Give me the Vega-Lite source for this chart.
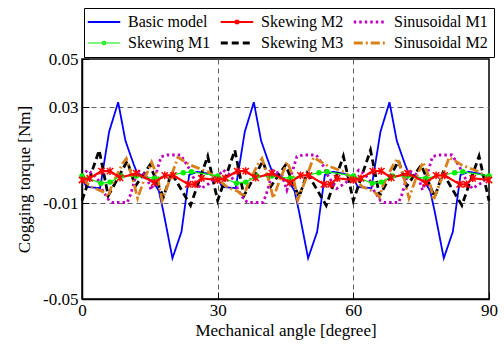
{
  "$schema": "https://vega.github.io/schema/vega-lite/v6.json",
  "width": 407,
  "height": 240,
  "autosize": "none",
  "padding": {"left": 82, "top": 59, "right": 15, "bottom": 45},
  "background": "white",
  "config": {
    "view": {"stroke": "black", "strokeWidth": 1.5},
    "font": "Liberation Serif",
    "axis": {
      "labelFont": "Liberation Serif",
      "titleFont": "Liberation Serif",
      "labelFontSize": 17,
      "titleFontSize": 17,
      "titleFontWeight": "normal",
      "labelColor": "black",
      "titleColor": "black",
      "domainColor": "black",
      "domainWidth": 1.5,
      "tickColor": "black",
      "tickWidth": 1,
      "tickSize": -7,
      "gridColor": "#606060",
      "gridDash": [5, 4],
      "gridWidth": 1,
      "labelFlush": false,
      "labelOverlap": false
    }
  },
  "data": {
    "values": [
      {"series": "Basic model", "angle": 0, "torque": 0.0003},
      {"series": "Basic model", "angle": 1, "torque": -0.0033},
      {"series": "Basic model", "angle": 4, "torque": -0.0038},
      {"series": "Basic model", "angle": 6, "torque": 0.0197},
      {"series": "Basic model", "angle": 8, "torque": 0.032},
      {"series": "Basic model", "angle": 9.6, "torque": 0.016},
      {"series": "Basic model", "angle": 10.7, "torque": 0.010},
      {"series": "Basic model", "angle": 11.5, "torque": 0.0058},
      {"series": "Basic model", "angle": 12.2, "torque": 0.0024},
      {"series": "Basic model", "angle": 14, "torque": 0.001},
      {"series": "Basic model", "angle": 16, "torque": -0.0018},
      {"series": "Basic model", "angle": 17, "torque": -0.005},
      {"series": "Basic model", "angle": 18, "torque": -0.0136},
      {"series": "Basic model", "angle": 20, "torque": -0.033},
      {"series": "Basic model", "angle": 22, "torque": -0.022},
      {"series": "Basic model", "angle": 23.7, "torque": 0.0017},
      {"series": "Basic model", "angle": 25.5, "torque": 0.003},
      {"series": "Basic model", "angle": 28, "torque": 0.0022},
      {"series": "Basic model", "angle": 30, "torque": 0.0003},
      {"series": "Basic model", "angle": 31, "torque": -0.0033},
      {"series": "Basic model", "angle": 34, "torque": -0.0038},
      {"series": "Basic model", "angle": 36, "torque": 0.0197},
      {"series": "Basic model", "angle": 38, "torque": 0.032},
      {"series": "Basic model", "angle": 39.6, "torque": 0.016},
      {"series": "Basic model", "angle": 40.7, "torque": 0.010},
      {"series": "Basic model", "angle": 41.5, "torque": 0.0058},
      {"series": "Basic model", "angle": 42.2, "torque": 0.0024},
      {"series": "Basic model", "angle": 44, "torque": 0.001},
      {"series": "Basic model", "angle": 46, "torque": -0.0018},
      {"series": "Basic model", "angle": 47, "torque": -0.005},
      {"series": "Basic model", "angle": 48, "torque": -0.0136},
      {"series": "Basic model", "angle": 50, "torque": -0.033},
      {"series": "Basic model", "angle": 52, "torque": -0.022},
      {"series": "Basic model", "angle": 53.7, "torque": 0.0017},
      {"series": "Basic model", "angle": 55.5, "torque": 0.003},
      {"series": "Basic model", "angle": 58, "torque": 0.0022},
      {"series": "Basic model", "angle": 60, "torque": 0.0003},
      {"series": "Basic model", "angle": 61, "torque": -0.0033},
      {"series": "Basic model", "angle": 64, "torque": -0.0038},
      {"series": "Basic model", "angle": 66, "torque": 0.0197},
      {"series": "Basic model", "angle": 68, "torque": 0.032},
      {"series": "Basic model", "angle": 69.6, "torque": 0.016},
      {"series": "Basic model", "angle": 70.7, "torque": 0.010},
      {"series": "Basic model", "angle": 71.5, "torque": 0.0058},
      {"series": "Basic model", "angle": 72.2, "torque": 0.0024},
      {"series": "Basic model", "angle": 74, "torque": 0.001},
      {"series": "Basic model", "angle": 76, "torque": -0.0018},
      {"series": "Basic model", "angle": 77, "torque": -0.005},
      {"series": "Basic model", "angle": 78, "torque": -0.0136},
      {"series": "Basic model", "angle": 80, "torque": -0.033},
      {"series": "Basic model", "angle": 82, "torque": -0.022},
      {"series": "Basic model", "angle": 83.7, "torque": 0.0017},
      {"series": "Basic model", "angle": 85.5, "torque": 0.003},
      {"series": "Basic model", "angle": 88, "torque": 0.0022},
      {"series": "Basic model", "angle": 90, "torque": 0.0003},

      {"series": "Skewing M3", "angle": 0, "torque": -0.009},
      {"series": "Skewing M3", "angle": 3.8, "torque": 0.012},
      {"series": "Skewing M3", "angle": 5.8, "torque": -0.007},
      {"series": "Skewing M3", "angle": 10, "torque": 0.0075},
      {"series": "Skewing M3", "angle": 11.8, "torque": -0.003},
      {"series": "Skewing M3", "angle": 15, "torque": 0.0058},
      {"series": "Skewing M3", "angle": 18, "torque": -0.0075},
      {"series": "Skewing M3", "angle": 19.8, "torque": 0.0025},
      {"series": "Skewing M3", "angle": 24, "torque": -0.011},
      {"series": "Skewing M3", "angle": 27.8, "torque": 0.0095},
      {"series": "Skewing M3", "angle": 30, "torque": -0.009},
      {"series": "Skewing M3", "angle": 33.8, "torque": 0.012},
      {"series": "Skewing M3", "angle": 35.8, "torque": -0.007},
      {"series": "Skewing M3", "angle": 40, "torque": 0.0075},
      {"series": "Skewing M3", "angle": 41.8, "torque": -0.003},
      {"series": "Skewing M3", "angle": 45, "torque": 0.0058},
      {"series": "Skewing M3", "angle": 48, "torque": -0.0075},
      {"series": "Skewing M3", "angle": 49.8, "torque": 0.0025},
      {"series": "Skewing M3", "angle": 54, "torque": -0.011},
      {"series": "Skewing M3", "angle": 57.8, "torque": 0.0095},
      {"series": "Skewing M3", "angle": 60, "torque": -0.009},
      {"series": "Skewing M3", "angle": 63.8, "torque": 0.012},
      {"series": "Skewing M3", "angle": 65.8, "torque": -0.007},
      {"series": "Skewing M3", "angle": 70, "torque": 0.0075},
      {"series": "Skewing M3", "angle": 71.8, "torque": -0.003},
      {"series": "Skewing M3", "angle": 75, "torque": 0.0058},
      {"series": "Skewing M3", "angle": 78, "torque": -0.0075},
      {"series": "Skewing M3", "angle": 79.8, "torque": 0.0025},
      {"series": "Skewing M3", "angle": 84, "torque": -0.011},
      {"series": "Skewing M3", "angle": 87.8, "torque": 0.0095},
      {"series": "Skewing M3", "angle": 90, "torque": -0.009},

      {"series": "Sinusoidal M1", "angle": 0, "torque": 0.001},
      {"series": "Sinusoidal M1", "angle": 1.2, "torque": 0.0037},
      {"series": "Sinusoidal M1", "angle": 2.5, "torque": 0.002},
      {"series": "Sinusoidal M1", "angle": 3.8, "torque": -0.001},
      {"series": "Sinusoidal M1", "angle": 4.5, "torque": -0.0046},
      {"series": "Sinusoidal M1", "angle": 6, "torque": -0.009},
      {"series": "Sinusoidal M1", "angle": 6.8, "torque": -0.0098},
      {"series": "Sinusoidal M1", "angle": 10, "torque": -0.0098},
      {"series": "Sinusoidal M1", "angle": 10.7, "torque": -0.0067},
      {"series": "Sinusoidal M1", "angle": 11.5, "torque": -0.0015},
      {"series": "Sinusoidal M1", "angle": 12.3, "torque": 0.0035},
      {"series": "Sinusoidal M1", "angle": 14.2, "torque": 0.0017},
      {"series": "Sinusoidal M1", "angle": 15.3, "torque": -0.0046},
      {"series": "Sinusoidal M1", "angle": 17.5, "torque": 0.0093},
      {"series": "Sinusoidal M1", "angle": 18.8, "torque": 0.01},
      {"series": "Sinusoidal M1", "angle": 21.8, "torque": 0.01},
      {"series": "Sinusoidal M1", "angle": 22.5, "torque": 0.008},
      {"series": "Sinusoidal M1", "angle": 23.5, "torque": 0.005},
      {"series": "Sinusoidal M1", "angle": 24.5, "torque": 0.001},
      {"series": "Sinusoidal M1", "angle": 26.3, "torque": -0.004},
      {"series": "Sinusoidal M1", "angle": 28, "torque": -0.002},
      {"series": "Sinusoidal M1", "angle": 30, "torque": 0.001},
      {"series": "Sinusoidal M1", "angle": 31.2, "torque": 0.0037},
      {"series": "Sinusoidal M1", "angle": 32.5, "torque": 0.002},
      {"series": "Sinusoidal M1", "angle": 33.8, "torque": -0.001},
      {"series": "Sinusoidal M1", "angle": 34.5, "torque": -0.0046},
      {"series": "Sinusoidal M1", "angle": 36, "torque": -0.009},
      {"series": "Sinusoidal M1", "angle": 36.8, "torque": -0.0098},
      {"series": "Sinusoidal M1", "angle": 40, "torque": -0.0098},
      {"series": "Sinusoidal M1", "angle": 40.7, "torque": -0.0067},
      {"series": "Sinusoidal M1", "angle": 41.5, "torque": -0.0015},
      {"series": "Sinusoidal M1", "angle": 42.3, "torque": 0.0035},
      {"series": "Sinusoidal M1", "angle": 44.2, "torque": 0.0017},
      {"series": "Sinusoidal M1", "angle": 45.3, "torque": -0.0046},
      {"series": "Sinusoidal M1", "angle": 47.5, "torque": 0.0093},
      {"series": "Sinusoidal M1", "angle": 48.8, "torque": 0.01},
      {"series": "Sinusoidal M1", "angle": 51.8, "torque": 0.01},
      {"series": "Sinusoidal M1", "angle": 52.5, "torque": 0.008},
      {"series": "Sinusoidal M1", "angle": 53.5, "torque": 0.005},
      {"series": "Sinusoidal M1", "angle": 54.5, "torque": 0.001},
      {"series": "Sinusoidal M1", "angle": 56.3, "torque": -0.004},
      {"series": "Sinusoidal M1", "angle": 58, "torque": -0.002},
      {"series": "Sinusoidal M1", "angle": 60, "torque": 0.001},
      {"series": "Sinusoidal M1", "angle": 61.2, "torque": 0.0037},
      {"series": "Sinusoidal M1", "angle": 62.5, "torque": 0.002},
      {"series": "Sinusoidal M1", "angle": 63.8, "torque": -0.001},
      {"series": "Sinusoidal M1", "angle": 64.5, "torque": -0.0046},
      {"series": "Sinusoidal M1", "angle": 66, "torque": -0.009},
      {"series": "Sinusoidal M1", "angle": 66.8, "torque": -0.0098},
      {"series": "Sinusoidal M1", "angle": 70, "torque": -0.0098},
      {"series": "Sinusoidal M1", "angle": 70.7, "torque": -0.0067},
      {"series": "Sinusoidal M1", "angle": 71.5, "torque": -0.0015},
      {"series": "Sinusoidal M1", "angle": 72.3, "torque": 0.0035},
      {"series": "Sinusoidal M1", "angle": 74.2, "torque": 0.0017},
      {"series": "Sinusoidal M1", "angle": 75.3, "torque": -0.0046},
      {"series": "Sinusoidal M1", "angle": 77.5, "torque": 0.0093},
      {"series": "Sinusoidal M1", "angle": 78.8, "torque": 0.01},
      {"series": "Sinusoidal M1", "angle": 81.8, "torque": 0.01},
      {"series": "Sinusoidal M1", "angle": 82.5, "torque": 0.008},
      {"series": "Sinusoidal M1", "angle": 83.5, "torque": 0.005},
      {"series": "Sinusoidal M1", "angle": 84.5, "torque": 0.001},
      {"series": "Sinusoidal M1", "angle": 86.3, "torque": -0.004},
      {"series": "Sinusoidal M1", "angle": 88, "torque": -0.002},
      {"series": "Sinusoidal M1", "angle": 90, "torque": 0.001},

      {"series": "Sinusoidal M2", "angle": 0, "torque": 0.0},
      {"series": "Sinusoidal M2", "angle": 2, "torque": -0.0032},
      {"series": "Sinusoidal M2", "angle": 4.6, "torque": -0.0053},
      {"series": "Sinusoidal M2", "angle": 5.8, "torque": -0.0074},
      {"series": "Sinusoidal M2", "angle": 6.6, "torque": -0.0025},
      {"series": "Sinusoidal M2", "angle": 9, "torque": 0.0065},
      {"series": "Sinusoidal M2", "angle": 9.8, "torque": 0.0085},
      {"series": "Sinusoidal M2", "angle": 11.2, "torque": 0.0003},
      {"series": "Sinusoidal M2", "angle": 12.3, "torque": -0.008},
      {"series": "Sinusoidal M2", "angle": 13.8, "torque": 0.0},
      {"series": "Sinusoidal M2", "angle": 15.4, "torque": 0.007},
      {"series": "Sinusoidal M2", "angle": 16.7, "torque": 0.001},
      {"series": "Sinusoidal M2", "angle": 17.7, "torque": -0.0088},
      {"series": "Sinusoidal M2", "angle": 19.5, "torque": 0.0},
      {"series": "Sinusoidal M2", "angle": 21.2, "torque": 0.009},
      {"series": "Sinusoidal M2", "angle": 24, "torque": 0.0058},
      {"series": "Sinusoidal M2", "angle": 27.8, "torque": 0.003},
      {"series": "Sinusoidal M2", "angle": 30, "torque": 0.0},
      {"series": "Sinusoidal M2", "angle": 32, "torque": -0.0032},
      {"series": "Sinusoidal M2", "angle": 34.6, "torque": -0.0053},
      {"series": "Sinusoidal M2", "angle": 35.8, "torque": -0.0074},
      {"series": "Sinusoidal M2", "angle": 36.6, "torque": -0.0025},
      {"series": "Sinusoidal M2", "angle": 39, "torque": 0.0065},
      {"series": "Sinusoidal M2", "angle": 39.8, "torque": 0.0085},
      {"series": "Sinusoidal M2", "angle": 41.2, "torque": 0.0003},
      {"series": "Sinusoidal M2", "angle": 42.3, "torque": -0.008},
      {"series": "Sinusoidal M2", "angle": 43.8, "torque": 0.0},
      {"series": "Sinusoidal M2", "angle": 45.4, "torque": 0.007},
      {"series": "Sinusoidal M2", "angle": 46.7, "torque": 0.001},
      {"series": "Sinusoidal M2", "angle": 47.7, "torque": -0.0088},
      {"series": "Sinusoidal M2", "angle": 49.5, "torque": 0.0},
      {"series": "Sinusoidal M2", "angle": 51.2, "torque": 0.009},
      {"series": "Sinusoidal M2", "angle": 54, "torque": 0.0058},
      {"series": "Sinusoidal M2", "angle": 57.8, "torque": 0.003},
      {"series": "Sinusoidal M2", "angle": 60, "torque": 0.0},
      {"series": "Sinusoidal M2", "angle": 62, "torque": -0.0032},
      {"series": "Sinusoidal M2", "angle": 64.6, "torque": -0.0053},
      {"series": "Sinusoidal M2", "angle": 65.8, "torque": -0.0074},
      {"series": "Sinusoidal M2", "angle": 66.6, "torque": -0.0025},
      {"series": "Sinusoidal M2", "angle": 69, "torque": 0.0065},
      {"series": "Sinusoidal M2", "angle": 69.8, "torque": 0.0085},
      {"series": "Sinusoidal M2", "angle": 71.2, "torque": 0.0003},
      {"series": "Sinusoidal M2", "angle": 72.3, "torque": -0.008},
      {"series": "Sinusoidal M2", "angle": 73.8, "torque": 0.0},
      {"series": "Sinusoidal M2", "angle": 75.4, "torque": 0.007},
      {"series": "Sinusoidal M2", "angle": 76.7, "torque": 0.001},
      {"series": "Sinusoidal M2", "angle": 77.7, "torque": -0.0088},
      {"series": "Sinusoidal M2", "angle": 79.5, "torque": 0.0},
      {"series": "Sinusoidal M2", "angle": 81.2, "torque": 0.009},
      {"series": "Sinusoidal M2", "angle": 84, "torque": 0.0058},
      {"series": "Sinusoidal M2", "angle": 87.8, "torque": 0.003},
      {"series": "Sinusoidal M2", "angle": 90, "torque": 0.0},

      {"series": "Skewing M1", "angle": 0, "torque": 0.0013},
      {"series": "Skewing M1", "angle": 4.2, "torque": -0.0018},
      {"series": "Skewing M1", "angle": 6.2, "torque": -0.0013},
      {"series": "Skewing M1", "angle": 8.7, "torque": 0.0013},
      {"series": "Skewing M1", "angle": 12, "torque": 0.0012},
      {"series": "Skewing M1", "angle": 16, "torque": 0.0003},
      {"series": "Skewing M1", "angle": 22.4, "torque": 0.0026},
      {"series": "Skewing M1", "angle": 24.2, "torque": 0.003},
      {"series": "Skewing M1", "angle": 30, "torque": 0.0013},
      {"series": "Skewing M1", "angle": 34.2, "torque": -0.0018},
      {"series": "Skewing M1", "angle": 36.2, "torque": -0.0013},
      {"series": "Skewing M1", "angle": 38.7, "torque": 0.0013},
      {"series": "Skewing M1", "angle": 42, "torque": 0.0012},
      {"series": "Skewing M1", "angle": 46, "torque": 0.0003},
      {"series": "Skewing M1", "angle": 52.4, "torque": 0.0026},
      {"series": "Skewing M1", "angle": 54.2, "torque": 0.003},
      {"series": "Skewing M1", "angle": 60, "torque": 0.0013},
      {"series": "Skewing M1", "angle": 64.2, "torque": -0.0018},
      {"series": "Skewing M1", "angle": 66.2, "torque": -0.0013},
      {"series": "Skewing M1", "angle": 68.7, "torque": 0.0013},
      {"series": "Skewing M1", "angle": 72, "torque": 0.0012},
      {"series": "Skewing M1", "angle": 76, "torque": 0.0003},
      {"series": "Skewing M1", "angle": 82.4, "torque": 0.0026},
      {"series": "Skewing M1", "angle": 84.2, "torque": 0.003},
      {"series": "Skewing M1", "angle": 90, "torque": 0.0013},

      {"series": "Skewing M2", "angle": 0, "torque": -0.0004},
      {"series": "Skewing M2", "angle": 1.7, "torque": 0.0003},
      {"series": "Skewing M2", "angle": 4.3, "torque": 0.0033},
      {"series": "Skewing M2", "angle": 6.2, "torque": 0.0033},
      {"series": "Skewing M2", "angle": 8.4, "torque": 0.0005},
      {"series": "Skewing M2", "angle": 12, "torque": 0.0024},
      {"series": "Skewing M2", "angle": 16, "torque": -0.0015},
      {"series": "Skewing M2", "angle": 18.3, "torque": 0.0015},
      {"series": "Skewing M2", "angle": 20.2, "torque": 0.0015},
      {"series": "Skewing M2", "angle": 23.5, "torque": -0.0022},
      {"series": "Skewing M2", "angle": 25, "torque": -0.0022},
      {"series": "Skewing M2", "angle": 26.4, "torque": 0.0003},
      {"series": "Skewing M2", "angle": 30, "torque": -0.0004},
      {"series": "Skewing M2", "angle": 31.7, "torque": 0.0003},
      {"series": "Skewing M2", "angle": 34.3, "torque": 0.0033},
      {"series": "Skewing M2", "angle": 36.2, "torque": 0.0033},
      {"series": "Skewing M2", "angle": 38.4, "torque": 0.0005},
      {"series": "Skewing M2", "angle": 42, "torque": 0.0024},
      {"series": "Skewing M2", "angle": 46, "torque": -0.0015},
      {"series": "Skewing M2", "angle": 48.3, "torque": 0.0015},
      {"series": "Skewing M2", "angle": 50.2, "torque": 0.0015},
      {"series": "Skewing M2", "angle": 53.5, "torque": -0.0022},
      {"series": "Skewing M2", "angle": 55, "torque": -0.0022},
      {"series": "Skewing M2", "angle": 56.4, "torque": 0.0003},
      {"series": "Skewing M2", "angle": 60, "torque": -0.0004},
      {"series": "Skewing M2", "angle": 61.7, "torque": 0.0003},
      {"series": "Skewing M2", "angle": 64.3, "torque": 0.0033},
      {"series": "Skewing M2", "angle": 66.2, "torque": 0.0033},
      {"series": "Skewing M2", "angle": 68.4, "torque": 0.0005},
      {"series": "Skewing M2", "angle": 72, "torque": 0.0024},
      {"series": "Skewing M2", "angle": 76, "torque": -0.0015},
      {"series": "Skewing M2", "angle": 78.3, "torque": 0.0015},
      {"series": "Skewing M2", "angle": 80.2, "torque": 0.0015},
      {"series": "Skewing M2", "angle": 83.5, "torque": -0.0022},
      {"series": "Skewing M2", "angle": 85, "torque": -0.0022},
      {"series": "Skewing M2", "angle": 86.4, "torque": 0.0003},
      {"series": "Skewing M2", "angle": 90, "torque": -0.0004}
    ]
  },
  "encoding": {
    "x": {
      "field": "angle",
      "type": "quantitative",
      "scale": {"domain": [0, 90], "nice": false, "zero": false},
      "axis": {
        "values": [0, 30, 60, 90],
        "title": "Mechanical angle [degree]",
        "labelPadding": 10,
        "titlePadding": 4,
        "gridOpacity": {"condition": {"test": "datum.value == 0 || datum.value == 90", "value": 0}, "value": 1}
      }
    },
    "y": {
      "field": "torque",
      "type": "quantitative",
      "scale": {"domain": [-0.05, 0.05], "nice": false, "zero": false},
      "axis": {
        "values": [0.05, 0.03, -0.01, -0.05],
        "title": "Cogging torque [Nm]",
        "labelExpr": "replace(format(datum.value, '.2f'), '\u2212', '-')",
        "labelPadding": 11,
        "titlePadding": 9,
        "gridOpacity": {"condition": {"test": "datum.value == 0.05 || datum.value == -0.05", "value": 0}, "value": 1}
      }
    }
  },
  "layer": [
    {
      "mark": {"type": "point", "opacity": 0, "filled": false},
      "encoding": {
        "color": {
          "field": "series",
          "type": "nominal",
          "scale": {
            "domain": ["Basic model", "Skewing M1", "Skewing M2", "Skewing M3", "Sinusoidal M1", "Sinusoidal M2"],
            "range": ["#0000ff", "#00ee00", "#ff0000", "#000000", "#c000c0", "#d9801a"]
          },
          "legend": {
            "orient": "none",
            "legendX": 2,
            "legendY": -51,
            "columns": 3,
            "title": null,
            "strokeColor": "black",
            "fillColor": "white",
            "padding": 6,
            "columnPadding": 4,
            "rowPadding": 5,
            "labelFont": "Liberation Serif",
            "labelFontSize": 16,
            "labelColor": "black",
            "symbolSize": 169,
            "symbolStrokeWidth": 2.5,
            "symbolOpacity": 1,
            "symbolOffset": 6,
            "labelOffset": 16
          }
        },
        "strokeDash": {
          "field": "series",
          "type": "nominal",
          "scale": {
            "domain": ["Basic model", "Skewing M1", "Skewing M2", "Skewing M3", "Sinusoidal M1", "Sinusoidal M2"],
            "range": [[1, 0], [1, 0], [1, 0], [7, 4], [2.5, 3], [9, 3, 2, 3]]
          }
        },
        "shape": {
          "field": "series",
          "type": "nominal",
          "scale": {
            "domain": ["Basic model", "Skewing M1", "Skewing M2", "Skewing M3", "Sinusoidal M1", "Sinusoidal M2"],
            "range": [
              "M-2.5,0L2.5,0",
              "M-2.5,0L2.5,0M-0.25,0A0.25,0.25,0,1,0,0.25,0A0.25,0.25,0,1,0,-0.25,0",
              "M-2.5,0L2.5,0M-0.28,-0.28L0.28,0.28M-0.28,0.28L0.28,-0.28M0,-0.36L0,0.36",
              "M-2.5,0L2.5,0",
              "M-2.5,0L2.5,0",
              "M-2.5,0L2.5,0"
            ]
          }
        }
      }
    },
    {
      "mark": {"type": "line", "strokeJoin": "miter", "strokeCap": "butt"},
      "encoding": {
        "color": {"field": "series", "type": "nominal", "legend": null},
        "strokeDash": {"field": "series", "type": "nominal", "legend": null},
        "strokeWidth": {
          "field": "series",
          "type": "nominal",
          "legend": null,
          "scale": {
            "type": "ordinal",
            "domain": ["Basic model", "Skewing M1", "Skewing M2", "Skewing M3", "Sinusoidal M1", "Sinusoidal M2"],
            "range": [1.8, 1.2, 2.2, 2.8, 2.8, 2.8]
          }
        },
        "order": {"field": "angle", "type": "quantitative"}
      }
    },
    {
      "transform": [{"filter": "datum.series == 'Skewing M1'"}],
      "mark": {"type": "point", "shape": "circle", "filled": true, "size": 30, "color": "#00ee00", "opacity": 1}
    },
    {
      "transform": [{"filter": "datum.series == 'Skewing M2'"}],
      "mark": {
        "type": "point",
        "shape": "M-1,-1L1,1M-1,1L1,-1M0,-1.2L0,1.2",
        "filled": false,
        "size": 40,
        "strokeWidth": 1.5,
        "color": "#ff0000",
        "opacity": 1
      }
    }
  ]
}
